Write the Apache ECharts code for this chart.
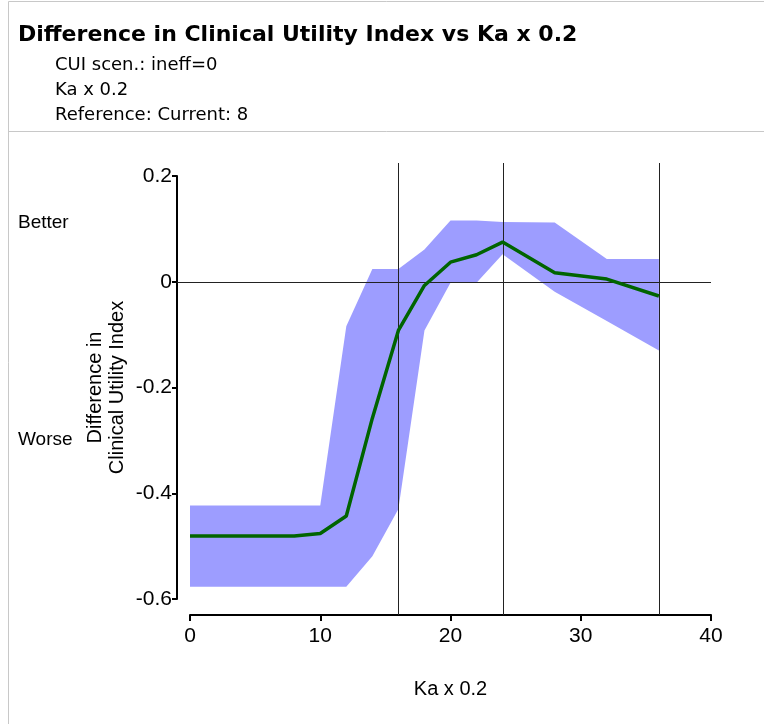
<!DOCTYPE html>
<html>
<head>
<meta charset="utf-8">
<script src="https://cdn.jsdelivr.net/npm/echarts@6/dist/echarts.min.js"></script>
<style>
  html, body { margin: 0; padding: 0; background: #fff; }
  #main { width: 764px; height: 724px; }
</style>
</head>
<body>
<div id="main"></div>
<script>
// x values shared by the mean line and the band
var kaX = [0, 2, 4, 6, 8, 10, 12, 14, 16, 18, 20, 22, 24, 28, 32, 36]
// mean difference in CUI
var cuiMean = [-0.481, -0.481, -0.481, -0.481, -0.481, -0.476, -0.443, -0.258, -0.092, -0.007, 0.037, 0.051, 0.075, 0.017, 0.005, -0.027]
// band upper / lower
var cuiUpper = [-0.423, -0.423, -0.423, -0.423, -0.423, -0.423, -0.084, 0.024, 0.024, 0.061, 0.116, 0.116, 0.113, 0.112, 0.043, 0.043]
var cuiLower = [-0.577, -0.577, -0.577, -0.577, -0.577, -0.577, -0.577, -0.519, -0.430, -0.092, -0.002, -0.002, 0.052, -0.019, -0.074, -0.130]
// vertical reference lines
var refX = [16, 24, 36]
var xTicks = [0, 10, 20, 30, 40]
var yTicks = [-0.6, -0.4, -0.2, 0, 0.2]

var chart = echarts.init(document.getElementById('main'))

var font = 'Liberation Sans, Arial, sans-serif'

var option = {
  backgroundColor: '#fff',
  animation: false,
  title: [{
    text: 'Difference in Clinical Utility Index vs Ka x 0.2',
    left: 13,
    top: 19,
    textStyle: { fontFamily: 'DejaVu Sans', fontWeight: 'bold', fontSize: 22, color: '#000' }
  }, {
    text: 'CUI scen.: ineff=0\nKa x 0.2\nReference: Current: 8',
    left: 50,
    top: 48,
    textStyle: { fontFamily: 'DejaVu Sans', fontWeight: 'normal', fontSize: 18, lineHeight: 25, color: '#000' }
  }, {
    text: 'Better',
    left: 13,
    top: 208,
    textStyle: { fontFamily: font, fontWeight: 'normal', fontSize: 19, color: '#000' }
  }, {
    text: 'Worse',
    left: 13,
    top: 425,
    textStyle: { fontFamily: font, fontWeight: 'normal', fontSize: 19, color: '#000' }
  }],
  graphic: [
    // outer frame lines
    { type: 'line', shape: { x1: 8.5, y1: 1.5, x2: 764, y2: 1.5 }, style: { stroke: '#c8c8c8', lineWidth: 1 } },
    { type: 'line', shape: { x1: 8.5, y1: 1.5, x2: 8.5, y2: 724 }, style: { stroke: '#c8c8c8', lineWidth: 1 } },
    { type: 'line', shape: { x1: 8.5, y1: 131.5, x2: 764, y2: 131.5 }, style: { stroke: '#c8c8c8', lineWidth: 1 } }
  ],
  grid: { left: 190, right: 53, top: 176, bottom: 125 },
  xAxis: {
    type: 'value',
    min: xTicks[0],
    max: xTicks[xTicks.length - 1],
    interval: 10,
    offset: 16,
    name: 'Ka x 0.2',
    nameLocation: 'middle',
    nameGap: 64,
    nameTextStyle: { fontFamily: font, fontSize: 20, color: '#000' },
    axisLine: { onZero: false, lineStyle: { color: '#000', width: 2 } },
    axisTick: { length: 6, lineStyle: { color: '#000', width: 2 } },
    axisLabel: { fontFamily: font, fontSize: 21, color: '#000', margin: 11 },
    splitLine: { show: false }
  },
  yAxis: {
    type: 'value',
    min: yTicks[0],
    max: yTicks[yTicks.length - 1],
    interval: 0.2,
    offset: 13,
    name: 'Difference in\nClinical Utility Index',
    nameLocation: 'middle',
    nameMoveOverlap: false,
    nameGap: 49,
    nameTextStyle: { fontFamily: font, fontSize: 20, lineHeight: 22, color: '#000' },
    axisLine: { onZero: false, lineStyle: { color: '#000', width: 2 } },
    axisTick: { length: 5, lineStyle: { color: '#000', width: 2 } },
    axisLabel: {
      fontFamily: font, fontSize: 21, color: '#000', margin: 5,
      formatter: function (v) { return String(+v.toFixed(1)) }
    },
    splitLine: { show: false }
  },
  series: [{
    // uncertainty band
    type: 'custom',
    data: [[0]],
    z: 1,
    renderItem: function (params, api) {
      var pts = []
      for (var i = 0; i < kaX.length; i++) pts.push(api.coord([kaX[i], cuiUpper[i]]))
      for (var j = kaX.length - 1; j >= 0; j--) pts.push(api.coord([kaX[j], cuiLower[j]]))
      return { type: 'polygon', shape: { points: pts }, style: { fill: '#9d9dff', stroke: null } }
    }
  }, {
    // horizontal zero line
    type: 'custom',
    data: [[0]],
    z: 2,
    renderItem: function (params, api) {
      var a = api.coord([0, 0])
      var b = api.coord([40, 0])
      return { type: 'line', shape: { x1: a[0] - 13, y1: Math.round(a[1]) + 0.5, x2: b[0], y2: Math.round(a[1]) + 0.5 }, style: { stroke: '#222', lineWidth: 1 } }
    }
  }, {
    // vertical reference lines
    type: 'custom',
    data: refX.map(function (v) { return [v] }),
    z: 2,
    renderItem: function (params, api) {
      var x = api.value(0)
      var top = api.coord([x, 0.2])
      var bot = api.coord([x, -0.6])
      var px = Math.round(top[0]) + 0.5
      return { type: 'line', shape: { x1: px, y1: top[1] - 13, x2: px, y2: bot[1] + 16 }, style: { stroke: '#222', lineWidth: 1 } }
    }
  }, {
    type: 'line',
    data: kaX.map(function (x, i) { return [x, cuiMean[i]] }),
    z: 3,
    symbol: 'none',
    lineStyle: { color: '#006400', width: 3.5 }
  }]
}

chart.setOption(option)
</script>
</body>
</html>
